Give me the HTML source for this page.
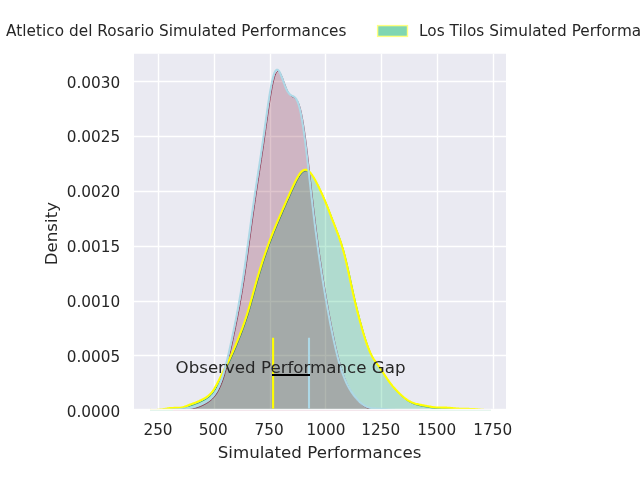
<!DOCTYPE html>
<html><head><meta charset="utf-8"><style>
html,body{margin:0;padding:0;background:#fff;width:640px;height:480px;overflow:hidden}
svg{display:block;will-change:transform}
</style></head><body>
<svg width="640" height="480" viewBox="0 0 640 480">
<rect x="0" y="0" width="640" height="480" fill="#ffffff"/>
<rect x="134.0" y="53.75" width="372.0" height="355.05" fill="#EAEAF2"/>
<line x1="158.5" y1="53.75" x2="158.5" y2="408.8" stroke="#fff" stroke-width="1.39"/>
<line x1="214.5" y1="53.75" x2="214.5" y2="408.8" stroke="#fff" stroke-width="1.39"/>
<line x1="270.5" y1="53.75" x2="270.5" y2="408.8" stroke="#fff" stroke-width="1.39"/>
<line x1="325.5" y1="53.75" x2="325.5" y2="408.8" stroke="#fff" stroke-width="1.39"/>
<line x1="381.5" y1="53.75" x2="381.5" y2="408.8" stroke="#fff" stroke-width="1.39"/>
<line x1="437.5" y1="53.75" x2="437.5" y2="408.8" stroke="#fff" stroke-width="1.39"/>
<line x1="493.5" y1="53.75" x2="493.5" y2="408.8" stroke="#fff" stroke-width="1.39"/>
<line x1="134.0" y1="81.5" x2="506.0" y2="81.5" stroke="#fff" stroke-width="1.39"/>
<line x1="134.0" y1="136.5" x2="506.0" y2="136.5" stroke="#fff" stroke-width="1.39"/>
<line x1="134.0" y1="191.5" x2="506.0" y2="191.5" stroke="#fff" stroke-width="1.39"/>
<line x1="134.0" y1="246.5" x2="506.0" y2="246.5" stroke="#fff" stroke-width="1.39"/>
<line x1="134.0" y1="301.5" x2="506.0" y2="301.5" stroke="#fff" stroke-width="1.39"/>
<line x1="134.0" y1="355.5" x2="506.0" y2="355.5" stroke="#fff" stroke-width="1.39"/>
<defs><clipPath id="ax"><rect x="134.0" y="53.75" width="372.0" height="355.05"/></clipPath></defs>
<g clip-path="url(#ax)">
<path d="M150.80,411.10 L151.66,411.14 L152.51,411.16 L153.37,411.19 L154.23,411.20 L155.09,411.20 L155.94,411.19 L156.80,411.17 L157.66,411.13 L158.51,411.08 L159.37,411.02 L160.23,410.94 L161.09,410.84 L161.94,410.73 L162.80,410.61 L163.66,410.47 L164.51,410.33 L165.37,410.17 L166.23,410.02 L167.09,409.87 L167.94,409.72 L168.80,409.58 L169.66,409.46 L170.51,409.35 L171.37,409.26 L172.23,409.20 L173.09,409.15 L173.94,409.12 L174.80,409.11 L175.66,409.11 L176.51,409.11 L177.37,409.11 L178.23,409.10 L179.09,409.07 L179.94,409.02 L180.80,408.93 L181.66,408.82 L182.51,408.66 L183.37,408.47 L184.23,408.24 L185.09,407.98 L185.94,407.69 L186.80,407.38 L187.66,407.05 L188.51,406.72 L189.37,406.38 L190.23,406.04 L191.09,405.71 L191.94,405.39 L192.80,405.07 L193.66,404.76 L194.51,404.45 L195.37,404.13 L196.23,403.81 L197.09,403.48 L197.94,403.14 L198.80,402.78 L199.66,402.40 L200.51,402.00 L201.37,401.59 L202.23,401.16 L203.09,400.72 L203.94,400.26 L204.80,399.79 L205.66,399.30 L206.51,398.78 L207.37,398.24 L208.23,397.64 L209.09,397.00 L209.94,396.28 L210.80,395.48 L211.66,394.59 L212.51,393.59 L213.37,392.49 L214.23,391.27 L215.09,389.95 L215.94,388.52 L216.80,387.01 L217.66,385.42 L218.51,383.76 L219.37,382.07 L220.23,380.34 L221.09,378.61 L221.94,376.87 L222.80,375.14 L223.66,373.43 L224.51,371.72 L225.37,370.03 L226.23,368.34 L227.09,366.65 L227.94,364.94 L228.80,363.22 L229.66,361.46 L230.51,359.66 L231.37,357.82 L232.23,355.94 L233.09,354.01 L233.94,352.05 L234.80,350.05 L235.66,348.01 L236.51,345.95 L237.37,343.87 L238.23,341.76 L239.09,339.63 L239.94,337.48 L240.80,335.30 L241.66,333.09 L242.51,330.83 L243.37,328.53 L244.23,326.16 L245.09,323.73 L245.94,321.22 L246.80,318.63 L247.66,315.96 L248.51,313.20 L249.37,310.36 L250.23,307.45 L251.09,304.48 L251.94,301.45 L252.80,298.38 L253.66,295.29 L254.51,292.19 L255.37,289.10 L256.23,286.03 L257.09,282.99 L257.94,279.99 L258.80,277.05 L259.66,274.15 L260.51,271.32 L261.37,268.54 L262.23,265.81 L263.09,263.14 L263.94,260.52 L264.80,257.95 L265.66,255.43 L266.51,252.94 L267.37,250.50 L268.23,248.09 L269.09,245.72 L269.94,243.40 L270.80,241.11 L271.66,238.86 L272.51,236.65 L273.37,234.48 L274.23,232.35 L275.09,230.24 L275.94,228.17 L276.80,226.12 L277.66,224.09 L278.51,222.08 L279.37,220.07 L280.23,218.08 L281.09,216.09 L281.94,214.11 L282.80,212.13 L283.66,210.15 L284.51,208.18 L285.37,206.22 L286.23,204.26 L287.09,202.31 L287.94,200.36 L288.80,198.43 L289.66,196.50 L290.51,194.59 L291.37,192.69 L292.23,190.80 L293.09,188.93 L293.94,187.09 L294.80,185.28 L295.66,183.51 L296.51,181.80 L297.37,180.15 L298.23,178.60 L299.09,177.14 L299.94,175.80 L300.80,174.60 L301.66,173.54 L302.51,172.66 L303.37,171.95 L304.23,171.42 L305.09,171.08 L305.94,170.94 L306.80,170.98 L307.66,171.22 L308.51,171.64 L309.37,172.23 L310.23,172.99 L311.09,173.90 L311.94,174.95 L312.80,176.12 L313.66,177.41 L314.51,178.79 L315.37,180.26 L316.23,181.80 L317.09,183.40 L317.94,185.06 L318.80,186.76 L319.66,188.50 L320.51,190.28 L321.37,192.10 L322.23,193.95 L323.09,195.84 L323.94,197.78 L324.80,199.76 L325.66,201.78 L326.51,203.85 L327.37,205.97 L328.23,208.12 L329.09,210.31 L329.94,212.52 L330.80,214.76 L331.66,217.00 L332.51,219.24 L333.37,221.47 L334.23,223.69 L335.09,225.90 L335.94,228.10 L336.80,230.30 L337.66,232.53 L338.51,234.78 L339.37,237.10 L340.23,239.50 L341.09,242.00 L341.94,244.63 L342.80,247.41 L343.66,250.35 L344.51,253.46 L345.37,256.74 L346.23,260.18 L347.09,263.78 L347.94,267.50 L348.80,271.33 L349.66,275.24 L350.51,279.19 L351.37,283.16 L352.23,287.11 L353.09,291.03 L353.94,294.88 L354.80,298.66 L355.66,302.35 L356.51,305.95 L357.37,309.45 L358.23,312.87 L359.09,316.20 L359.94,319.45 L360.80,322.64 L361.66,325.75 L362.51,328.80 L363.37,331.77 L364.23,334.67 L365.09,337.49 L365.94,340.22 L366.80,342.83 L367.66,345.33 L368.51,347.69 L369.37,349.91 L370.23,351.99 L371.09,353.92 L371.94,355.70 L372.80,357.34 L373.66,358.86 L374.51,360.28 L375.37,361.60 L376.23,362.86 L377.09,364.07 L377.94,365.26 L378.80,366.44 L379.66,367.63 L380.51,368.84 L381.37,370.06 L382.23,371.32 L383.09,372.60 L383.94,373.90 L384.80,375.22 L385.66,376.54 L386.51,377.85 L387.37,379.14 L388.23,380.41 L389.09,381.65 L389.94,382.85 L390.80,384.01 L391.66,385.13 L392.51,386.21 L393.37,387.26 L394.23,388.26 L395.09,389.24 L395.94,390.19 L396.80,391.11 L397.66,392.01 L398.51,392.90 L399.37,393.76 L400.23,394.61 L401.09,395.43 L401.94,396.23 L402.80,397.01 L403.66,397.75 L404.51,398.47 L405.37,399.15 L406.23,399.80 L407.09,400.41 L407.94,400.98 L408.80,401.52 L409.66,402.02 L410.51,402.48 L411.37,402.91 L412.23,403.31 L413.09,403.68 L413.94,404.01 L414.80,404.32 L415.66,404.61 L416.51,404.87 L417.37,405.11 L418.23,405.33 L419.09,405.54 L419.94,405.73 L420.80,405.91 L421.66,406.08 L422.51,406.25 L423.37,406.41 L424.23,406.57 L425.09,406.72 L425.94,406.88 L426.80,407.04 L427.66,407.21 L428.51,407.37 L429.37,407.53 L430.23,407.69 L431.09,407.84 L431.94,407.99 L432.80,408.13 L433.66,408.26 L434.51,408.37 L435.37,408.47 L436.23,408.56 L437.09,408.63 L437.94,408.68 L438.80,408.72 L439.66,408.75 L440.51,408.77 L441.37,408.78 L442.23,408.79 L443.09,408.79 L443.94,408.79 L444.80,408.80 L445.66,408.81 L446.51,408.83 L447.37,408.86 L448.23,408.89 L449.09,408.94 L449.94,408.99 L450.80,409.05 L451.66,409.13 L452.51,409.20 L453.37,409.29 L454.23,409.37 L455.09,409.46 L455.94,409.54 L456.80,409.63 L457.66,409.71 L458.51,409.78 L459.37,409.85 L460.23,409.91 L461.09,409.95 L461.94,410.00 L462.80,410.03 L463.66,410.05 L464.51,410.07 L465.37,410.08 L466.23,410.09 L467.09,410.09 L467.94,410.10 L468.80,410.10 L469.66,410.11 L470.51,410.12 L471.37,410.14 L472.23,410.16 L473.09,410.20 L473.94,410.24 L474.80,410.29 L475.66,410.35 L476.51,410.41 L477.37,410.49 L478.23,410.56 L479.09,410.64 L479.94,410.72 L480.80,410.80 L481.66,410.88 L482.51,410.95 L483.37,411.02 L484.23,411.08 L485.09,411.14 L485.94,411.19 L486.80,411.23 L487.66,411.27 L488.51,411.30 L489.37,411.32 L490.23,411.34 L491.09,411.36 L491.94,411.37 L492.80,411.38 L492.80,411.6 L150.80,411.6 Z" fill="rgb(2,174,102)" fill-opacity="0.25" stroke="rgb(2,150,90)" stroke-width="0.8"/>
<path d="M151.00,411.68 L151.68,411.68 L152.36,411.67 L153.05,411.66 L153.73,411.66 L154.41,411.65 L155.09,411.64 L155.77,411.63 L156.45,411.61 L157.14,411.60 L157.82,411.59 L158.50,411.57 L159.18,411.55 L159.86,411.54 L160.54,411.52 L161.23,411.50 L161.91,411.48 L162.59,411.46 L163.27,411.44 L163.95,411.42 L164.63,411.40 L165.32,411.38 L166.00,411.36 L166.68,411.34 L167.36,411.32 L168.04,411.30 L168.72,411.28 L169.41,411.25 L170.09,411.23 L170.77,411.20 L171.45,411.18 L172.13,411.15 L172.81,411.12 L173.50,411.09 L174.18,411.06 L174.86,411.02 L175.54,410.99 L176.22,410.95 L176.90,410.91 L177.59,410.87 L178.27,410.82 L178.95,410.77 L179.63,410.72 L180.31,410.66 L180.99,410.60 L181.68,410.54 L182.36,410.47 L183.04,410.40 L183.72,410.33 L184.40,410.25 L185.09,410.17 L185.77,410.08 L186.45,409.99 L187.13,409.89 L187.81,409.78 L188.49,409.68 L189.18,409.56 L189.86,409.44 L190.54,409.32 L191.22,409.18 L191.90,409.04 L192.58,408.89 L193.27,408.73 L193.95,408.56 L194.63,408.39 L195.31,408.20 L195.99,408.00 L196.67,407.79 L197.36,407.57 L198.04,407.33 L198.72,407.08 L199.40,406.83 L200.08,406.56 L200.76,406.27 L201.45,405.98 L202.13,405.67 L202.81,405.35 L203.49,405.02 L204.17,404.68 L204.85,404.32 L205.54,403.95 L206.22,403.56 L206.90,403.15 L207.58,402.72 L208.26,402.28 L208.94,401.80 L209.63,401.30 L210.31,400.77 L210.99,400.20 L211.67,399.60 L212.35,398.95 L213.04,398.25 L213.72,397.51 L214.40,396.71 L215.08,395.85 L215.76,394.92 L216.44,393.92 L217.13,392.85 L217.81,391.69 L218.49,390.45 L219.17,389.11 L219.85,387.68 L220.53,386.14 L221.22,384.50 L221.90,382.74 L222.58,380.87 L223.26,378.89 L223.94,376.79 L224.62,374.57 L225.31,372.24 L225.99,369.80 L226.67,367.26 L227.35,364.62 L228.03,361.88 L228.71,359.06 L229.40,356.16 L230.08,353.19 L230.76,350.16 L231.44,347.07 L232.12,343.94 L232.80,340.76 L233.49,337.54 L234.17,334.28 L234.85,330.98 L235.53,327.65 L236.21,324.27 L236.89,320.84 L237.58,317.35 L238.26,313.80 L238.94,310.18 L239.62,306.48 L240.30,302.69 L240.98,298.80 L241.67,294.81 L242.35,290.71 L243.03,286.49 L243.71,282.15 L244.39,277.70 L245.08,273.14 L245.76,268.48 L246.44,263.71 L247.12,258.87 L247.80,253.95 L248.48,248.98 L249.17,243.97 L249.85,238.95 L250.53,233.91 L251.21,228.90 L251.89,223.91 L252.57,218.96 L253.26,214.07 L253.94,209.24 L254.62,204.48 L255.30,199.78 L255.98,195.16 L256.66,190.59 L257.35,186.08 L258.03,181.61 L258.71,177.16 L259.39,172.73 L260.07,168.29 L260.75,163.84 L261.44,159.35 L262.12,154.81 L262.80,150.22 L263.48,145.57 L264.16,140.85 L264.84,136.08 L265.53,131.26 L266.21,126.41 L266.89,121.55 L267.57,116.71 L268.25,111.92 L268.93,107.21 L269.62,102.63 L270.30,98.22 L270.98,94.02 L271.66,90.07 L272.34,86.42 L273.03,83.10 L273.71,80.15 L274.39,77.59 L275.07,75.45 L275.75,73.74 L276.43,72.47 L277.12,71.64 L277.80,71.24 L278.48,71.24 L279.16,71.64 L279.84,72.38 L280.52,73.43 L281.21,74.75 L281.89,76.30 L282.57,78.01 L283.25,79.83 L283.93,81.72 L284.61,83.63 L285.30,85.50 L285.98,87.31 L286.66,89.00 L287.34,90.55 L288.02,91.94 L288.70,93.16 L289.39,94.20 L290.07,95.07 L290.75,95.77 L291.43,96.33 L292.11,96.78 L292.79,97.15 L293.48,97.47 L294.16,97.80 L294.84,98.18 L295.52,98.66 L296.20,99.28 L296.88,100.09 L297.57,101.13 L298.25,102.44 L298.93,104.07 L299.61,106.02 L300.29,108.33 L300.97,111.01 L301.66,114.07 L302.34,117.50 L303.02,121.31 L303.70,125.46 L304.38,129.96 L305.07,134.76 L305.75,139.84 L306.43,145.17 L307.11,150.71 L307.79,156.43 L308.47,162.28 L309.16,168.24 L309.84,174.26 L310.52,180.32 L311.20,186.38 L311.88,192.42 L312.56,198.41 L313.25,204.33 L313.93,210.17 L314.61,215.91 L315.29,221.54 L315.97,227.06 L316.65,232.46 L317.34,237.73 L318.02,242.89 L318.70,247.92 L319.38,252.85 L320.06,257.66 L320.74,262.36 L321.43,266.97 L322.11,271.48 L322.79,275.89 L323.47,280.23 L324.15,284.48 L324.83,288.65 L325.52,292.76 L326.20,296.79 L326.88,300.76 L327.56,304.66 L328.24,308.49 L328.92,312.27 L329.61,315.98 L330.29,319.63 L330.97,323.21 L331.65,326.72 L332.33,330.17 L333.02,333.55 L333.70,336.86 L334.38,340.09 L335.06,343.24 L335.74,346.32 L336.42,349.30 L337.11,352.20 L337.79,355.01 L338.47,357.72 L339.15,360.34 L339.83,362.86 L340.51,365.28 L341.20,367.60 L341.88,369.83 L342.56,371.95 L343.24,373.97 L343.92,375.90 L344.60,377.73 L345.29,379.48 L345.97,381.13 L346.65,382.71 L347.33,384.20 L348.01,385.62 L348.69,386.97 L349.38,388.26 L350.06,389.49 L350.74,390.66 L351.42,391.79 L352.10,392.86 L352.78,393.90 L353.47,394.89 L354.15,395.85 L354.83,396.77 L355.51,397.66 L356.19,398.52 L356.87,399.35 L357.56,400.15 L358.24,400.92 L358.92,401.65 L359.60,402.36 L360.28,403.04 L360.96,403.69 L361.65,404.30 L362.33,404.88 L363.01,405.43 L363.69,405.94 L364.37,406.43 L365.06,406.87 L365.74,407.29 L366.42,407.67 L367.10,408.02 L367.78,408.33 L368.46,408.62 L369.15,408.87 L369.83,409.10 L370.51,409.29 L371.19,409.47 L371.87,409.62 L372.55,409.74 L373.24,409.85 L373.92,409.94 L374.60,410.01 L375.28,410.07 L375.96,410.12 L376.64,410.16 L377.33,410.19 L378.01,410.22 L378.69,410.24 L379.37,410.26 L380.05,410.29 L380.73,410.31 L381.42,410.34 L382.10,410.37 L382.78,410.41 L383.46,410.45 L384.14,410.49 L384.82,410.54 L385.51,410.60 L386.19,410.65 L386.87,410.71 L387.55,410.78 L388.23,410.84 L388.91,410.91 L389.60,410.97 L390.28,411.03 L390.96,411.09 L391.64,411.15 L392.32,411.21 L393.01,411.25 L393.69,411.30 L394.37,411.34 L395.05,411.37 L395.73,411.40 L396.41,411.42 L397.10,411.44 L397.78,411.45 L398.46,411.46 L399.14,411.47 L399.82,411.48 L400.50,411.48 L401.19,411.48 L401.87,411.48 L402.55,411.48 L403.23,411.49 L403.91,411.49 L404.59,411.49 L405.28,411.50 L405.96,411.50 L406.64,411.51 L407.32,411.52 L408.00,411.53 L408.68,411.54 L409.37,411.55 L410.05,411.56 L410.73,411.57 L411.41,411.58 L412.09,411.60 L412.77,411.61 L413.46,411.62 L414.14,411.63 L414.82,411.64 L415.50,411.65 L416.18,411.66 L416.86,411.66 L417.55,411.67 L418.23,411.68 L418.91,411.68 L419.59,411.69 L420.27,411.69 L420.95,411.69 L421.64,411.69 L422.32,411.69 L423.00,411.70 L423.00,411.6 L151.00,411.6 Z" fill="rgb(126,22,54)" fill-opacity="0.25" stroke="rgb(126,22,54)" stroke-width="0.8"/>
<path d="M150.00,409.90 L150.86,409.94 L151.71,409.96 L152.57,409.99 L153.43,410.00 L154.29,410.00 L155.14,409.99 L156.00,409.97 L156.86,409.93 L157.71,409.88 L158.57,409.82 L159.43,409.74 L160.29,409.64 L161.14,409.53 L162.00,409.41 L162.86,409.27 L163.71,409.13 L164.57,408.97 L165.43,408.82 L166.29,408.67 L167.14,408.52 L168.00,408.38 L168.86,408.26 L169.71,408.15 L170.57,408.06 L171.43,408.00 L172.29,407.95 L173.14,407.92 L174.00,407.91 L174.86,407.91 L175.71,407.91 L176.57,407.91 L177.43,407.90 L178.29,407.87 L179.14,407.82 L180.00,407.73 L180.86,407.62 L181.71,407.46 L182.57,407.27 L183.43,407.04 L184.29,406.78 L185.14,406.49 L186.00,406.18 L186.86,405.85 L187.71,405.52 L188.57,405.18 L189.43,404.84 L190.29,404.51 L191.14,404.19 L192.00,403.87 L192.86,403.56 L193.71,403.25 L194.57,402.93 L195.43,402.61 L196.29,402.28 L197.14,401.94 L198.00,401.58 L198.86,401.20 L199.71,400.80 L200.57,400.39 L201.43,399.96 L202.29,399.52 L203.14,399.06 L204.00,398.59 L204.86,398.10 L205.71,397.58 L206.57,397.04 L207.43,396.44 L208.29,395.80 L209.14,395.08 L210.00,394.28 L210.86,393.39 L211.71,392.39 L212.57,391.29 L213.43,390.07 L214.29,388.75 L215.14,387.32 L216.00,385.81 L216.86,384.22 L217.71,382.56 L218.57,380.87 L219.43,379.14 L220.29,377.41 L221.14,375.67 L222.00,373.94 L222.86,372.23 L223.71,370.52 L224.57,368.83 L225.43,367.14 L226.29,365.45 L227.14,363.74 L228.00,362.02 L228.86,360.26 L229.71,358.46 L230.57,356.62 L231.43,354.74 L232.29,352.81 L233.14,350.85 L234.00,348.85 L234.86,346.81 L235.71,344.75 L236.57,342.67 L237.43,340.56 L238.29,338.43 L239.14,336.28 L240.00,334.10 L240.86,331.89 L241.71,329.63 L242.57,327.33 L243.43,324.96 L244.29,322.53 L245.14,320.02 L246.00,317.43 L246.86,314.76 L247.71,312.00 L248.57,309.16 L249.43,306.25 L250.29,303.28 L251.14,300.25 L252.00,297.18 L252.86,294.09 L253.71,290.99 L254.57,287.90 L255.43,284.83 L256.29,281.79 L257.14,278.79 L258.00,275.85 L258.86,272.95 L259.71,270.12 L260.57,267.34 L261.43,264.61 L262.29,261.94 L263.14,259.32 L264.00,256.75 L264.86,254.23 L265.71,251.74 L266.57,249.30 L267.43,246.89 L268.29,244.52 L269.14,242.20 L270.00,239.91 L270.86,237.66 L271.71,235.45 L272.57,233.28 L273.43,231.15 L274.29,229.04 L275.14,226.97 L276.00,224.92 L276.86,222.89 L277.71,220.88 L278.57,218.87 L279.43,216.88 L280.29,214.89 L281.14,212.91 L282.00,210.93 L282.86,208.95 L283.71,206.98 L284.57,205.02 L285.43,203.06 L286.29,201.11 L287.14,199.16 L288.00,197.23 L288.86,195.30 L289.71,193.39 L290.57,191.49 L291.43,189.60 L292.29,187.73 L293.14,185.89 L294.00,184.08 L294.86,182.31 L295.71,180.60 L296.57,178.95 L297.43,177.40 L298.29,175.94 L299.14,174.60 L300.00,173.40 L300.86,172.34 L301.71,171.46 L302.57,170.75 L303.43,170.22 L304.29,169.88 L305.14,169.74 L306.00,169.78 L306.86,170.02 L307.71,170.44 L308.57,171.03 L309.43,171.79 L310.29,172.70 L311.14,173.75 L312.00,174.92 L312.86,176.21 L313.71,177.59 L314.57,179.06 L315.43,180.60 L316.29,182.20 L317.14,183.86 L318.00,185.56 L318.86,187.30 L319.71,189.08 L320.57,190.90 L321.43,192.75 L322.29,194.64 L323.14,196.58 L324.00,198.56 L324.86,200.58 L325.71,202.65 L326.57,204.77 L327.43,206.92 L328.29,209.11 L329.14,211.32 L330.00,213.56 L330.86,215.80 L331.71,218.04 L332.57,220.27 L333.43,222.49 L334.29,224.70 L335.14,226.90 L336.00,229.10 L336.86,231.33 L337.71,233.58 L338.57,235.90 L339.43,238.30 L340.29,240.80 L341.14,243.43 L342.00,246.21 L342.86,249.15 L343.71,252.26 L344.57,255.54 L345.43,258.98 L346.29,262.58 L347.14,266.30 L348.00,270.13 L348.86,274.04 L349.71,277.99 L350.57,281.96 L351.43,285.91 L352.29,289.83 L353.14,293.68 L354.00,297.46 L354.86,301.15 L355.71,304.75 L356.57,308.25 L357.43,311.67 L358.29,315.00 L359.14,318.25 L360.00,321.44 L360.86,324.55 L361.71,327.60 L362.57,330.57 L363.43,333.47 L364.29,336.29 L365.14,339.02 L366.00,341.63 L366.86,344.13 L367.71,346.49 L368.57,348.71 L369.43,350.79 L370.29,352.72 L371.14,354.50 L372.00,356.14 L372.86,357.66 L373.71,359.08 L374.57,360.40 L375.43,361.66 L376.29,362.87 L377.14,364.06 L378.00,365.24 L378.86,366.43 L379.71,367.64 L380.57,368.86 L381.43,370.12 L382.29,371.40 L383.14,372.70 L384.00,374.02 L384.86,375.34 L385.71,376.65 L386.57,377.94 L387.43,379.21 L388.29,380.45 L389.14,381.65 L390.00,382.81 L390.86,383.93 L391.71,385.01 L392.57,386.06 L393.43,387.06 L394.29,388.04 L395.14,388.99 L396.00,389.91 L396.86,390.81 L397.71,391.70 L398.57,392.56 L399.43,393.41 L400.29,394.23 L401.14,395.03 L402.00,395.81 L402.86,396.55 L403.71,397.27 L404.57,397.95 L405.43,398.60 L406.29,399.21 L407.14,399.78 L408.00,400.32 L408.86,400.82 L409.71,401.28 L410.57,401.71 L411.43,402.11 L412.29,402.48 L413.14,402.81 L414.00,403.12 L414.86,403.41 L415.71,403.67 L416.57,403.91 L417.43,404.13 L418.29,404.34 L419.14,404.53 L420.00,404.71 L420.86,404.88 L421.71,405.05 L422.57,405.21 L423.43,405.37 L424.29,405.52 L425.14,405.68 L426.00,405.84 L426.86,406.01 L427.71,406.17 L428.57,406.33 L429.43,406.49 L430.29,406.64 L431.14,406.79 L432.00,406.93 L432.86,407.06 L433.71,407.17 L434.57,407.27 L435.43,407.36 L436.29,407.43 L437.14,407.48 L438.00,407.52 L438.86,407.55 L439.71,407.57 L440.57,407.58 L441.43,407.59 L442.29,407.59 L443.14,407.59 L444.00,407.60 L444.86,407.61 L445.71,407.63 L446.57,407.66 L447.43,407.69 L448.29,407.74 L449.14,407.79 L450.00,407.85 L450.86,407.93 L451.71,408.00 L452.57,408.09 L453.43,408.17 L454.29,408.26 L455.14,408.34 L456.00,408.43 L456.86,408.51 L457.71,408.58 L458.57,408.65 L459.43,408.71 L460.29,408.75 L461.14,408.80 L462.00,408.83 L462.86,408.85 L463.71,408.87 L464.57,408.88 L465.43,408.89 L466.29,408.89 L467.14,408.90 L468.00,408.90 L468.86,408.91 L469.71,408.92 L470.57,408.94 L471.43,408.96 L472.29,409.00 L473.14,409.04 L474.00,409.09 L474.86,409.15 L475.71,409.21 L476.57,409.29 L477.43,409.36 L478.29,409.44 L479.14,409.52 L480.00,409.60 L480.86,409.68 L481.71,409.75 L482.57,409.82 L483.43,409.88 L484.29,409.94 L485.14,409.99 L486.00,410.03 L486.86,410.07 L487.71,410.10 L488.57,410.12 L489.43,410.14 L490.29,410.16 L491.14,410.17 L492.00,410.18" fill="none" stroke="#ffff00" stroke-width="2.08" stroke-linejoin="round"/>
<path d="M150.00,410.18 L150.68,410.18 L151.36,410.17 L152.05,410.16 L152.73,410.16 L153.41,410.15 L154.09,410.14 L154.77,410.13 L155.45,410.11 L156.14,410.10 L156.82,410.09 L157.50,410.07 L158.18,410.05 L158.86,410.04 L159.54,410.02 L160.23,410.00 L160.91,409.98 L161.59,409.96 L162.27,409.94 L162.95,409.92 L163.63,409.90 L164.32,409.88 L165.00,409.86 L165.68,409.84 L166.36,409.82 L167.04,409.80 L167.72,409.78 L168.41,409.75 L169.09,409.73 L169.77,409.70 L170.45,409.68 L171.13,409.65 L171.81,409.62 L172.50,409.59 L173.18,409.56 L173.86,409.52 L174.54,409.49 L175.22,409.45 L175.90,409.41 L176.59,409.37 L177.27,409.32 L177.95,409.27 L178.63,409.22 L179.31,409.16 L179.99,409.10 L180.68,409.04 L181.36,408.97 L182.04,408.90 L182.72,408.83 L183.40,408.75 L184.09,408.67 L184.77,408.58 L185.45,408.49 L186.13,408.39 L186.81,408.28 L187.49,408.18 L188.18,408.06 L188.86,407.94 L189.54,407.82 L190.22,407.68 L190.90,407.54 L191.58,407.39 L192.27,407.23 L192.95,407.06 L193.63,406.89 L194.31,406.70 L194.99,406.50 L195.67,406.29 L196.36,406.07 L197.04,405.83 L197.72,405.58 L198.40,405.33 L199.08,405.06 L199.76,404.77 L200.45,404.48 L201.13,404.17 L201.81,403.85 L202.49,403.52 L203.17,403.18 L203.85,402.82 L204.54,402.45 L205.22,402.06 L205.90,401.65 L206.58,401.22 L207.26,400.78 L207.94,400.30 L208.63,399.80 L209.31,399.27 L209.99,398.70 L210.67,398.10 L211.35,397.45 L212.04,396.75 L212.72,396.01 L213.40,395.21 L214.08,394.35 L214.76,393.42 L215.44,392.42 L216.13,391.35 L216.81,390.19 L217.49,388.95 L218.17,387.61 L218.85,386.18 L219.53,384.64 L220.22,383.00 L220.90,381.24 L221.58,379.37 L222.26,377.39 L222.94,375.29 L223.62,373.07 L224.31,370.74 L224.99,368.30 L225.67,365.76 L226.35,363.12 L227.03,360.38 L227.71,357.56 L228.40,354.66 L229.08,351.69 L229.76,348.66 L230.44,345.57 L231.12,342.44 L231.80,339.26 L232.49,336.04 L233.17,332.78 L233.85,329.48 L234.53,326.15 L235.21,322.77 L235.89,319.34 L236.58,315.85 L237.26,312.30 L237.94,308.68 L238.62,304.98 L239.30,301.19 L239.98,297.30 L240.67,293.31 L241.35,289.21 L242.03,284.99 L242.71,280.65 L243.39,276.20 L244.08,271.64 L244.76,266.98 L245.44,262.21 L246.12,257.37 L246.80,252.45 L247.48,247.48 L248.17,242.47 L248.85,237.45 L249.53,232.41 L250.21,227.40 L250.89,222.41 L251.57,217.46 L252.26,212.57 L252.94,207.74 L253.62,202.98 L254.30,198.28 L254.98,193.66 L255.66,189.09 L256.35,184.58 L257.03,180.11 L257.71,175.66 L258.39,171.23 L259.07,166.79 L259.75,162.34 L260.44,157.85 L261.12,153.31 L261.80,148.72 L262.48,144.07 L263.16,139.35 L263.84,134.58 L264.53,129.76 L265.21,124.91 L265.89,120.05 L266.57,115.21 L267.25,110.42 L267.93,105.71 L268.62,101.13 L269.30,96.72 L269.98,92.52 L270.66,88.57 L271.34,84.92 L272.03,81.60 L272.71,78.65 L273.39,76.09 L274.07,73.95 L274.75,72.24 L275.43,70.97 L276.12,70.14 L276.80,69.74 L277.48,69.74 L278.16,70.14 L278.84,70.88 L279.52,71.93 L280.21,73.25 L280.89,74.80 L281.57,76.51 L282.25,78.33 L282.93,80.22 L283.61,82.13 L284.30,84.00 L284.98,85.81 L285.66,87.50 L286.34,89.05 L287.02,90.44 L287.70,91.66 L288.39,92.70 L289.07,93.57 L289.75,94.27 L290.43,94.83 L291.11,95.28 L291.79,95.65 L292.48,95.97 L293.16,96.30 L293.84,96.68 L294.52,97.16 L295.20,97.78 L295.88,98.59 L296.57,99.63 L297.25,100.94 L297.93,102.57 L298.61,104.52 L299.29,106.83 L299.97,109.51 L300.66,112.57 L301.34,116.00 L302.02,119.81 L302.70,123.96 L303.38,128.46 L304.07,133.26 L304.75,138.34 L305.43,143.67 L306.11,149.21 L306.79,154.93 L307.47,160.78 L308.16,166.74 L308.84,172.76 L309.52,178.82 L310.20,184.88 L310.88,190.92 L311.56,196.91 L312.25,202.83 L312.93,208.67 L313.61,214.41 L314.29,220.04 L314.97,225.56 L315.65,230.96 L316.34,236.23 L317.02,241.39 L317.70,246.42 L318.38,251.35 L319.06,256.16 L319.74,260.86 L320.43,265.47 L321.11,269.98 L321.79,274.39 L322.47,278.73 L323.15,282.98 L323.83,287.15 L324.52,291.26 L325.20,295.29 L325.88,299.26 L326.56,303.16 L327.24,306.99 L327.92,310.77 L328.61,314.48 L329.29,318.13 L329.97,321.71 L330.65,325.22 L331.33,328.67 L332.02,332.05 L332.70,335.36 L333.38,338.59 L334.06,341.74 L334.74,344.82 L335.42,347.80 L336.11,350.70 L336.79,353.51 L337.47,356.22 L338.15,358.84 L338.83,361.36 L339.51,363.78 L340.20,366.10 L340.88,368.33 L341.56,370.45 L342.24,372.47 L342.92,374.40 L343.60,376.23 L344.29,377.98 L344.97,379.63 L345.65,381.21 L346.33,382.70 L347.01,384.12 L347.69,385.47 L348.38,386.76 L349.06,387.99 L349.74,389.16 L350.42,390.29 L351.10,391.36 L351.78,392.40 L352.47,393.39 L353.15,394.35 L353.83,395.27 L354.51,396.16 L355.19,397.02 L355.87,397.85 L356.56,398.65 L357.24,399.42 L357.92,400.15 L358.60,400.86 L359.28,401.54 L359.96,402.19 L360.65,402.80 L361.33,403.38 L362.01,403.93 L362.69,404.44 L363.37,404.93 L364.06,405.37 L364.74,405.79 L365.42,406.17 L366.10,406.52 L366.78,406.83 L367.46,407.12 L368.15,407.37 L368.83,407.60 L369.51,407.79 L370.19,407.97 L370.87,408.12 L371.55,408.24 L372.24,408.35 L372.92,408.44 L373.60,408.51 L374.28,408.57 L374.96,408.62 L375.64,408.66 L376.33,408.69 L377.01,408.72 L377.69,408.74 L378.37,408.76 L379.05,408.79 L379.73,408.81 L380.42,408.84 L381.10,408.87 L381.78,408.91 L382.46,408.95 L383.14,408.99 L383.82,409.04 L384.51,409.10 L385.19,409.15 L385.87,409.21 L386.55,409.28 L387.23,409.34 L387.91,409.41 L388.60,409.47 L389.28,409.53 L389.96,409.59 L390.64,409.65 L391.32,409.71 L392.01,409.75 L392.69,409.80 L393.37,409.84 L394.05,409.87 L394.73,409.90 L395.41,409.92 L396.10,409.94 L396.78,409.95 L397.46,409.96 L398.14,409.97 L398.82,409.98 L399.50,409.98 L400.19,409.98 L400.87,409.98 L401.55,409.98 L402.23,409.99 L402.91,409.99 L403.59,409.99 L404.28,410.00 L404.96,410.00 L405.64,410.01 L406.32,410.02 L407.00,410.03 L407.68,410.04 L408.37,410.05 L409.05,410.06 L409.73,410.07 L410.41,410.08 L411.09,410.10 L411.77,410.11 L412.46,410.12 L413.14,410.13 L413.82,410.14 L414.50,410.15 L415.18,410.16 L415.86,410.16 L416.55,410.17 L417.23,410.18 L417.91,410.18 L418.59,410.19 L419.27,410.19 L419.95,410.19 L420.64,410.19 L421.32,410.19 L422.00,410.20" fill="none" stroke="#add8e6" stroke-width="2.08" stroke-linejoin="round"/>
<line x1="273.1" y1="337.8" x2="273.1" y2="408.8" stroke="#ffff00" stroke-width="2.08"/>
<line x1="309.0" y1="337.8" x2="309.0" y2="408.8" stroke="#add8e6" stroke-width="2.08"/>
</g>
<rect x="150" y="409.0" width="23" height="1" fill="#fdfce6"/>
<rect x="150" y="410.0" width="23" height="1" fill="#e3f4ec"/>
<rect x="173" y="410.0" width="247" height="1" fill="#f4e6ec"/>
<rect x="420" y="410.0" width="71" height="1" fill="#e6f5ee"/>
<rect x="173" y="409.0" width="318" height="1" fill="#f8f8f9"/>
<text x="290.5" y="373.0" font-family='"DejaVu Sans", "Liberation Sans", sans-serif' font-size="16.667" fill="#262626" text-anchor="middle">Observed Performance Gap</text>
<line x1="272.0" y1="374.95" x2="310.0" y2="374.95" stroke="#000" stroke-width="2.08"/>
<text x="158.0" y="434.5" font-family='"DejaVu Sans", "Liberation Sans", sans-serif' font-size="15.278" fill="#262626" text-anchor="middle">250</text>
<text x="213.2" y="434.5" font-family='"DejaVu Sans", "Liberation Sans", sans-serif' font-size="15.278" fill="#262626" text-anchor="middle">500</text>
<text x="269.1" y="434.5" font-family='"DejaVu Sans", "Liberation Sans", sans-serif' font-size="15.278" fill="#262626" text-anchor="middle">750</text>
<text x="326.0" y="434.5" font-family='"DejaVu Sans", "Liberation Sans", sans-serif' font-size="15.278" fill="#262626" text-anchor="middle">1000</text>
<text x="380.8" y="434.5" font-family='"DejaVu Sans", "Liberation Sans", sans-serif' font-size="15.278" fill="#262626" text-anchor="middle">1250</text>
<text x="436.8" y="434.5" font-family='"DejaVu Sans", "Liberation Sans", sans-serif' font-size="15.278" fill="#262626" text-anchor="middle">1500</text>
<text x="492.8" y="434.5" font-family='"DejaVu Sans", "Liberation Sans", sans-serif' font-size="15.278" fill="#262626" text-anchor="middle">1750</text>
<text x="120.2" y="416.80" font-family='"DejaVu Sans", "Liberation Sans", sans-serif' font-size="15.278" fill="#262626" text-anchor="end">0.0000</text>
<text x="120.2" y="361.92" font-family='"DejaVu Sans", "Liberation Sans", sans-serif' font-size="15.278" fill="#262626" text-anchor="end">0.0005</text>
<text x="120.2" y="307.04" font-family='"DejaVu Sans", "Liberation Sans", sans-serif' font-size="15.278" fill="#262626" text-anchor="end">0.0010</text>
<text x="120.2" y="252.16" font-family='"DejaVu Sans", "Liberation Sans", sans-serif' font-size="15.278" fill="#262626" text-anchor="end">0.0015</text>
<text x="120.2" y="197.28" font-family='"DejaVu Sans", "Liberation Sans", sans-serif' font-size="15.278" fill="#262626" text-anchor="end">0.0020</text>
<text x="120.2" y="142.40" font-family='"DejaVu Sans", "Liberation Sans", sans-serif' font-size="15.278" fill="#262626" text-anchor="end">0.0025</text>
<text x="120.2" y="87.52" font-family='"DejaVu Sans", "Liberation Sans", sans-serif' font-size="15.278" fill="#262626" text-anchor="end">0.0030</text>
<text x="319.6" y="457.8" font-family='"DejaVu Sans", "Liberation Sans", sans-serif' font-size="16.667" fill="#262626" text-anchor="middle">Simulated Performances</text>
<text transform="translate(57.4,233.6) rotate(-90)" x="0" y="0" font-family='"DejaVu Sans", "Liberation Sans", sans-serif' font-size="16.667" fill="#262626" text-anchor="middle">Density</text>
<text x="6.0" y="36.2" font-family='"DejaVu Sans", "Liberation Sans", sans-serif' font-size="15.278" fill="#262626" textLength="340.5" lengthAdjust="spacing">Atletico del Rosario Simulated Performances</text>
<rect x="377.6" y="25.6" width="29.9" height="10.8" fill="rgb(128,214,178)" stroke="rgb(255,255,128)" stroke-width="1.39"/>
<text x="419" y="36.2" font-family='"DejaVu Sans", "Liberation Sans", sans-serif' font-size="15.278" fill="#262626" textLength="257.75" lengthAdjust="spacing">Los Tilos Simulated Performances</text>
</svg>
</body></html>
